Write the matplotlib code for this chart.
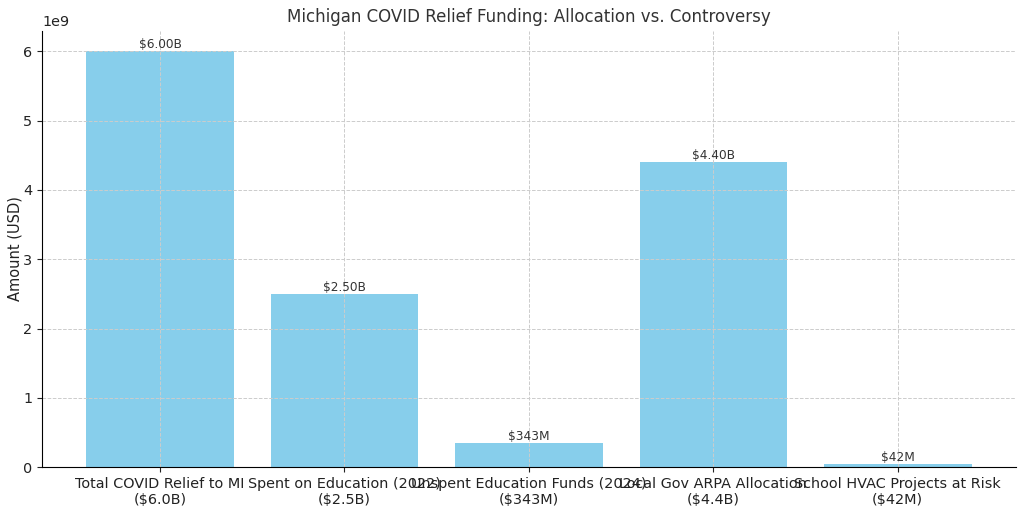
import matplotlib
matplotlib.use("Agg")
import matplotlib.pyplot as plt

# Chart data
categories = [
    "Total COVID Relief to MI\n($6.0B)",
    "Spent on Education (2022)\n($2.5B)",
    "Unspent Education Funds (2024)\n($343M)",
    "Local Gov ARPA Allocation\n($4.4B)",
    "School HVAC Projects at Risk\n($42M)",
]
amounts = [6.0e9, 2.5e9, 343e6, 4.4e9, 42e6]

text_color = "#333333"

fig, ax = plt.subplots(figsize=(10.24, 5.11), dpi=100)
bars = ax.bar(categories, amounts, color="skyblue")

# value labels above each bar
for bar, v in zip(bars, amounts):
    if v >= 1e9:
        label = f"${v/1e9:.2f}B"
    else:
        label = f"${v/1e6:.0f}M"
    ax.text(bar.get_x() + bar.get_width() / 2, v, label,
            ha="center", va="bottom", fontsize=8.7, color=text_color)

ax.set_title("Michigan COVID Relief Funding: Allocation vs. Controversy",
             fontsize=12, color=text_color)
ax.set_ylabel("Amount (USD)", fontsize=10.5, color="#222222", labelpad=0.5)
ax.tick_params(axis="both", labelsize=10.4, colors="#222222")
ax.yaxis.get_offset_text().set_fontsize(10.4)
ax.grid(True, linestyle="--", color="#cccccc", linewidth=0.7)
ax.spines["top"].set_visible(False)
ax.spines["right"].set_visible(False)

plt.subplots_adjust(left=0.041, right=0.992, top=0.94, bottom=0.086)
plt.savefig("out.png")
plt.close()
